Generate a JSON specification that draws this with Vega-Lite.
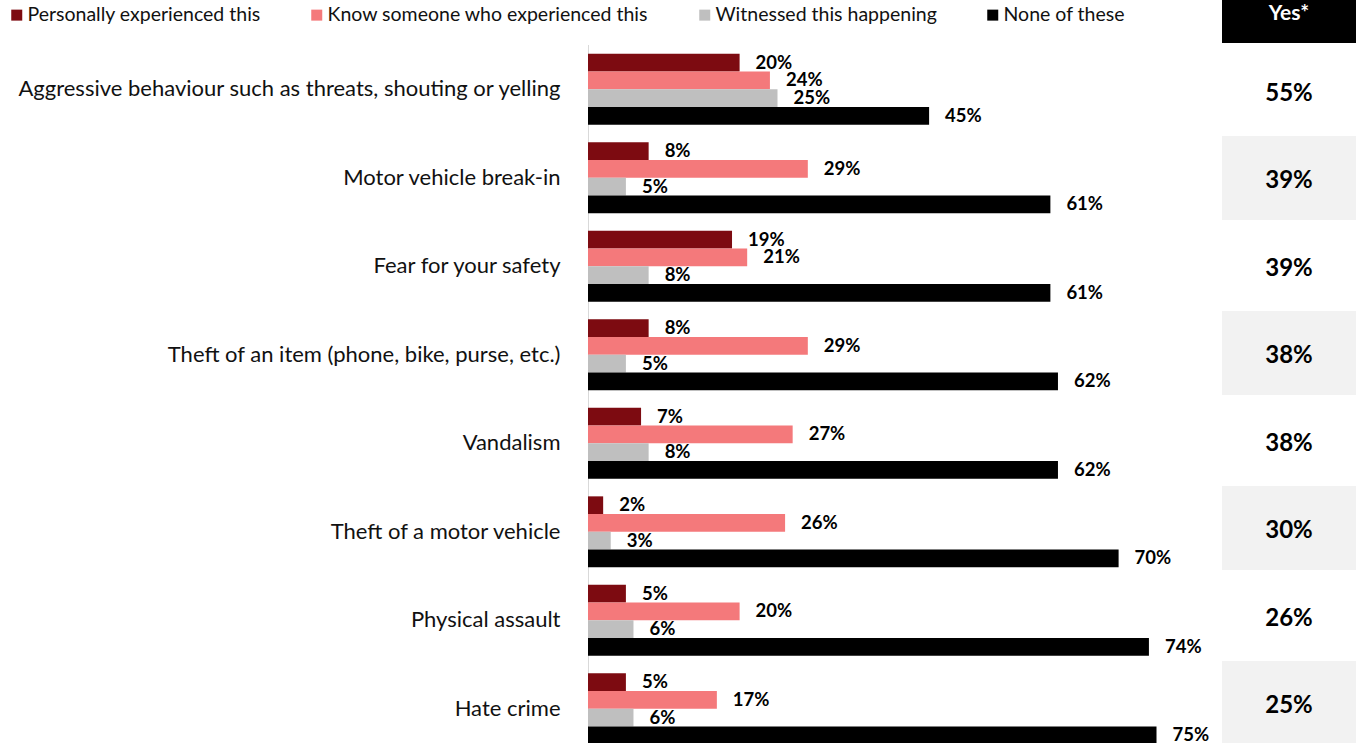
{
  "$schema": "https://vega.github.io/schema/vega-lite/v6.json",
  "padding": {"left": 7, "top": 0, "right": 0, "bottom": 0},
  "background": "white",
  "spacing": 0,
  "bounds": "flush",
  "config": {"view": {"stroke": null}, "font": "Lato"},
  "datasets": {
    "bars": [
      {"cat": "Aggressive behaviour such as threats, shouting or yelling", "s": "Personally experienced this", "v": 0.20},
      {"cat": "Aggressive behaviour such as threats, shouting or yelling", "s": "Know someone who experienced this", "v": 0.24},
      {"cat": "Aggressive behaviour such as threats, shouting or yelling", "s": "Witnessed this happening", "v": 0.25},
      {"cat": "Aggressive behaviour such as threats, shouting or yelling", "s": "None of these", "v": 0.45},
      {"cat": "Motor vehicle break-in", "s": "Personally experienced this", "v": 0.08},
      {"cat": "Motor vehicle break-in", "s": "Know someone who experienced this", "v": 0.29},
      {"cat": "Motor vehicle break-in", "s": "Witnessed this happening", "v": 0.05},
      {"cat": "Motor vehicle break-in", "s": "None of these", "v": 0.61},
      {"cat": "Fear for your safety", "s": "Personally experienced this", "v": 0.19},
      {"cat": "Fear for your safety", "s": "Know someone who experienced this", "v": 0.21},
      {"cat": "Fear for your safety", "s": "Witnessed this happening", "v": 0.08},
      {"cat": "Fear for your safety", "s": "None of these", "v": 0.61},
      {"cat": "Theft of an item (phone, bike, purse, etc.)", "s": "Personally experienced this", "v": 0.08},
      {"cat": "Theft of an item (phone, bike, purse, etc.)", "s": "Know someone who experienced this", "v": 0.29},
      {"cat": "Theft of an item (phone, bike, purse, etc.)", "s": "Witnessed this happening", "v": 0.05},
      {"cat": "Theft of an item (phone, bike, purse, etc.)", "s": "None of these", "v": 0.62},
      {"cat": "Vandalism", "s": "Personally experienced this", "v": 0.07},
      {"cat": "Vandalism", "s": "Know someone who experienced this", "v": 0.27},
      {"cat": "Vandalism", "s": "Witnessed this happening", "v": 0.08},
      {"cat": "Vandalism", "s": "None of these", "v": 0.62},
      {"cat": "Theft of a motor vehicle", "s": "Personally experienced this", "v": 0.02},
      {"cat": "Theft of a motor vehicle", "s": "Know someone who experienced this", "v": 0.26},
      {"cat": "Theft of a motor vehicle", "s": "Witnessed this happening", "v": 0.03},
      {"cat": "Theft of a motor vehicle", "s": "None of these", "v": 0.70},
      {"cat": "Physical assault", "s": "Personally experienced this", "v": 0.05},
      {"cat": "Physical assault", "s": "Know someone who experienced this", "v": 0.20},
      {"cat": "Physical assault", "s": "Witnessed this happening", "v": 0.06},
      {"cat": "Physical assault", "s": "None of these", "v": 0.74},
      {"cat": "Hate crime", "s": "Personally experienced this", "v": 0.05},
      {"cat": "Hate crime", "s": "Know someone who experienced this", "v": 0.17},
      {"cat": "Hate crime", "s": "Witnessed this happening", "v": 0.06},
      {"cat": "Hate crime", "s": "None of these", "v": 0.75}
    ],
    "yes": [
      {"cat": "Aggressive behaviour such as threats, shouting or yelling", "yes": 0.55, "row": 1},
      {"cat": "Motor vehicle break-in", "yes": 0.39, "row": 2},
      {"cat": "Fear for your safety", "yes": 0.39, "row": 3},
      {"cat": "Theft of an item (phone, bike, purse, etc.)", "yes": 0.38, "row": 4},
      {"cat": "Vandalism", "yes": 0.38, "row": 5},
      {"cat": "Theft of a motor vehicle", "yes": 0.30, "row": 6},
      {"cat": "Physical assault", "yes": 0.26, "row": 7},
      {"cat": "Hate crime", "yes": 0.25, "row": 8}
    ]
  },
  "hconcat": [
    {
      "width": 634,
      "height": 743,
      "data": {"name": "bars"},
      "encoding": {
        "y": {
          "field": "cat",
          "type": "nominal",
          "sort": null,
          "scale": {"range": [45, 753], "paddingInner": 0, "paddingOuter": 0},
          "axis": {"title": null, "domain": false, "ticks": false, "tickSize": 0, "labelPadding": 28, "labelFontSize": 22, "labelFont": "Lato", "labelColor": "#111111", "labelLimit": 700}
        }
      },
      "layer": [
        {
          "mark": {"type": "rect", "filled": false, "color": "#D9D9D9", "strokeWidth": 2, "clip": true},
          "encoding": {
            "x": {"datum": 0, "type": "quantitative", "scale": {"domain": [0, 0.8364], "nice": false}, "axis": null},
            "x2": {"datum": 0}
          }
        },
        {
          "mark": {"type": "bar", "clip": true},
          "encoding": {
            "x": {"field": "v", "type": "quantitative", "axis": null},
            "yOffset": {"field": "s", "type": "nominal", "sort": ["Personally experienced this", "Know someone who experienced this", "Witnessed this happening", "None of these"], "scale": {"paddingInner": 0, "paddingOuter": 0.5}},
            "color": {
              "field": "s",
              "type": "nominal",
              "sort": ["Personally experienced this", "Know someone who experienced this", "Witnessed this happening", "None of these"],
              "scale": {"domain": ["Personally experienced this", "Know someone who experienced this", "Witnessed this happening", "None of these"], "range": ["#7D0B11", "#F4797B", "#BFBFBF", "#000000"]},
              "legend": {"title": null, "orient": "none", "legendX": -581, "legendY": 5, "direction": "horizontal", "columns": 4, "padding": 0, "fillColor": "white", "symbolType": "square", "symbolSize": 121, "symbolStrokeWidth": 0, "symbolOpacity": 1, "labelFontSize": 19.5, "labelFont": "Lato", "labelColor": "#111111", "labelOffset": 1, "columnPadding": 46, "labelLimit": 500}
            }
          }
        },
        {
          "mark": {"type": "text", "align": "left", "baseline": "middle", "dx": 16, "fontWeight": "bold", "fontSize": 18.5, "color": "#000000", "clip": true},
          "encoding": {
            "x": {"field": "v", "type": "quantitative"},
            "yOffset": {"field": "s", "type": "nominal", "sort": ["Personally experienced this", "Know someone who experienced this", "Witnessed this happening", "None of these"]},
            "text": {"field": "v", "type": "quantitative", "format": ".0%"}
          }
        }
      ]
    },
    {
      "spacing": 2,
      "bounds": "flush",
      "vconcat": [
        {
          "width": 134,
          "height": 43,
          "view": {"fill": "#000000", "stroke": null},
          "data": {"values": [{"h": "Yes*"}]},
          "mark": {"type": "text", "color": "white", "fontSize": 21, "fontWeight": "bold", "dy": -8},
          "encoding": {"text": {"field": "h", "type": "nominal"}}
        },
        {
          "width": 134,
          "height": 698,
          "data": {"name": "yes"},
          "encoding": {
            "y": {"field": "cat", "type": "nominal", "sort": null, "axis": null, "scale": {"range": [1.75, 701.75], "paddingInner": 0.04, "paddingOuter": 0.02}}
          },
          "layer": [
            {
              "mark": {"type": "rect", "clip": true},
              "encoding": {"color": {"condition": {"test": "datum.row % 2 == 0", "value": "#F2F2F2"}, "value": "#FFFFFF"}}
            },
            {
              "mark": {"type": "text", "fontSize": 24, "fontWeight": "bold", "dy": 3, "color": "#000000", "clip": true},
              "encoding": {"text": {"field": "yes", "type": "quantitative", "format": ".0%"}}
            }
          ]
        }
      ]
    }
  ]
}
